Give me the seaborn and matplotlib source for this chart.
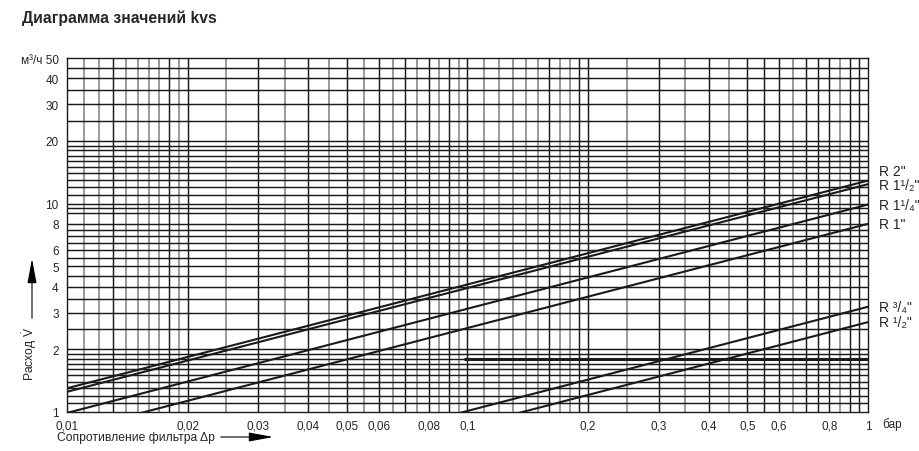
import numpy as np
import pandas as pd
import matplotlib
matplotlib.use("Agg")
import matplotlib.pyplot as plt
import seaborn as sns

# kvs lines: flow at dp = 0.01 bar and at dp = 1 bar
sizes = ['R 2"', 'R 1¹/₂"', 'R 1¹/₄"', 'R 1"', 'R ³/₄"', 'R ¹/₂"']
dp_ends = [0.01, 1.0]
flow_lo = [1.30, 1.25, 0.99, 0.80, 0.32, 0.27]
flow_hi = [12.9, 12.4, 9.9, 8.0, 3.2, 2.7]

x_ticks = [0.01, 0.02, 0.03, 0.04, 0.05, 0.06, 0.08, 0.1, 0.2, 0.3, 0.4, 0.5, 0.6, 0.8, 1]
x_ticklabels = ["0,01", "0,02", "0,03", "0,04", "0,05", "0,06", "0,08", "0,1",
                "0,2", "0,3", "0,4", "0,5", "0,6", "0,8", "1"]
y_ticks = [1, 2, 3, 4, 5, 6, 8, 10, 20, 30, 40, 50]
y_ticklabels = ["1", "2", "3", "4", "5", "6", "8", "10", "20", "30", "40", "м³/ч 50"]

# grid of the scanned sheet
x_black = [0.013, 0.018, 0.02, 0.03, 0.04, 0.05, 0.06, 0.07, 0.08, 0.09, 0.1,
           0.16, 0.19, 0.2, 0.3, 0.4, 0.5, 0.55, 0.6, 0.7, 0.75, 0.8, 0.9, 0.95]
x_gray = [0.011, 0.012, 0.014, 0.015, 0.016, 0.017, 0.019, 0.025, 0.035, 0.045,
          0.055, 0.065, 0.075, 0.085, 0.095, 0.11, 0.12, 0.13, 0.14, 0.15, 0.17,
          0.18, 0.25, 0.35, 0.45, 0.65, 0.85]
y_lines = [1.1, 1.2, 1.3, 1.4, 1.5, 1.6, 1.7, 1.8, 1.9, 2, 2.5, 3, 3.5, 4, 4.5, 5,
           5.5, 6, 6.5, 7, 7.5, 8, 9, 9.5, 10, 11, 12, 13, 14, 15, 16, 17, 18, 19,
           20, 25, 30, 35, 40, 45]

rows = []
for s, lo, hi in zip(sizes, flow_lo, flow_hi):
    rows.append({"size": s, "dp": dp_ends[0], "flow": lo})
    rows.append({"size": s, "dp": dp_ends[1], "flow": hi})
df = pd.DataFrame(rows)

sns.set_style("white")
plt.rcParams['font.family'] = ['Liberation Sans', 'DejaVu Sans']
plt.rcParams['mathtext.fontset'] = 'custom'
plt.rcParams['mathtext.rm'] = 'Liberation Sans'

fig = plt.figure(figsize=(9.2, 4.52), dpi=100)
ax = fig.add_axes([67 / 920, 39 / 452, 801 / 920, 354 / 452])
ax.set_xscale("log")
ax.set_yscale("log")
ax.set_xlim(0.01, 1)
ax.set_ylim(1, 50)

for x in x_gray:
    ax.axvline(x, color="#9a9a9a", lw=1.4, zorder=1)
for x in x_black:
    ax.axvline(x, color="#1a1a1a", lw=1.05, zorder=2)
for y in y_lines:
    ax.axhline(y, color="#1a1a1a", lw=1.05, zorder=2)
ax.hlines(1.8, 0.098, 1, color="#1a1a1a", lw=2.2, zorder=2)

sns.lineplot(data=df, x="dp", y="flow", units="size", estimator=None,
             color="#1a1a1a", lw=1.5, ax=ax, zorder=3, legend=False)

# label offsets in pixels (R 2" sits above its line end)
label_dy = [10, -1, 0, 0, 0, 0]
for s, hi, dy in zip(sizes, flow_hi, label_dy):
    ax.annotate(s, xy=(1.0, hi), xycoords=("axes fraction", "data"),
                xytext=(8, dy * 0.72), textcoords="offset points",
                fontsize=10, va="center", ha="left", annotation_clip=False)

for sp in ax.spines.values():
    sp.set_color("#1a1a1a")
    sp.set_linewidth(1.0)

ax.set_xticks(x_ticks)
ax.set_xticklabels(x_ticklabels)
ax.set_xticks([0.07, 0.09, 0.7, 0.9], minor=True)
ax.set_yticks(y_ticks)
ax.set_yticklabels(y_ticklabels)
ax.yaxis.set_minor_locator(matplotlib.ticker.NullLocator())
ax.tick_params(axis="x", which="both", direction="out", length=3, width=1,
               labelsize=8.5, pad=2.5, color="#1a1a1a")
ax.tick_params(axis="y", which="major", direction="out", length=4, width=1,
               labelsize=8.5, pad=2, color="#1a1a1a")
ax.set_xlabel("")
ax.set_ylabel("")

fig.text(22 / 920, 1 - 18 / 452, "Диаграмма значений kvs", fontsize=11.3,
         fontweight="bold", va="center", ha="left")
fig.text(882 / 920, 1 - 425 / 452, "бар", fontsize=8.5, va="center", ha="left")
fig.text(57 / 920, 1 - 438 / 452, "Сопротивление фильтра Δp", fontsize=8.7,
         va="center", ha="left")
fig.text(30 / 920, 1 - 354 / 452, "Расход $\\dot{\\mathrm{V}}$", fontsize=8.7,
         va="center", ha="center", rotation=90)

ax.annotate("", xy=(276, 452 - 438), xytext=(218, 452 - 438),
            xycoords="figure pixels", textcoords="figure pixels",
            arrowprops=dict(arrowstyle="-|>,head_length=1.5,head_width=0.28",
                            color="black", lw=0.8, mutation_scale=10))
ax.annotate("", xy=(32, 452 - 257), xytext=(32, 452 - 322),
            xycoords="figure pixels", textcoords="figure pixels",
            arrowprops=dict(arrowstyle="-|>,head_length=1.5,head_width=0.28",
                            color="black", lw=0.8, mutation_scale=10))

fig.savefig("out.png", dpi=100)
